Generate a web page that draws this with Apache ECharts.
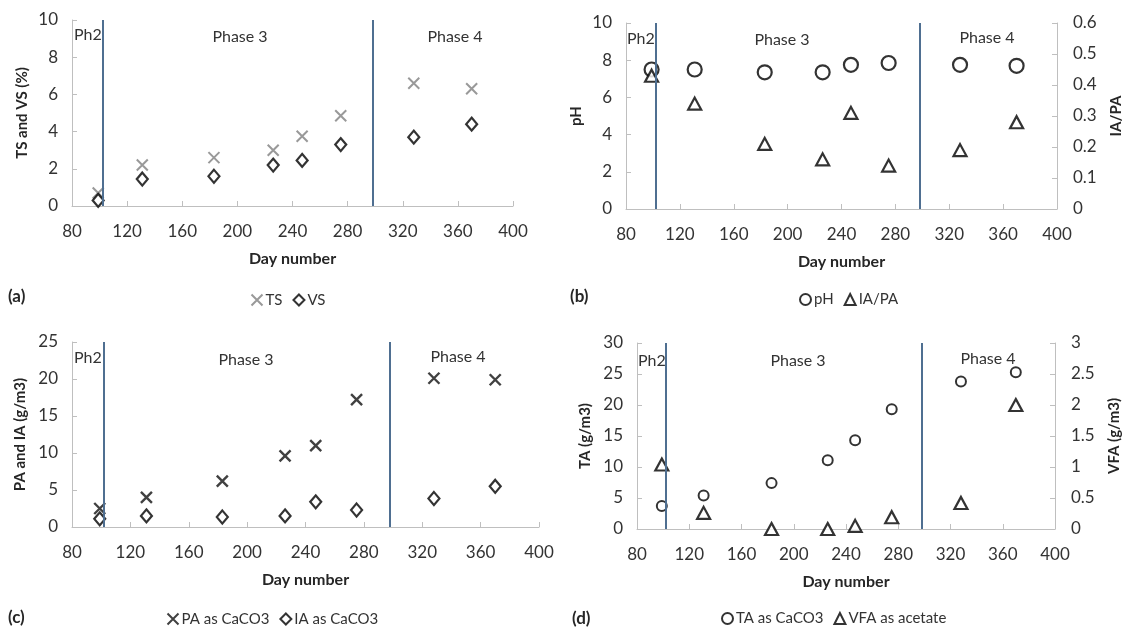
<!DOCTYPE html>
<html>
<head>
<meta charset="utf-8">
<script src="https://cdn.jsdelivr.net/npm/echarts@6/dist/echarts.min.js"></script>
<style>
  html, body { margin: 0; padding: 0; background: #fff; }
  #chart { width: 1126px; height: 630px; }
</style>
</head>
<body>
<div id="chart"></div>
<script>
// sampling days shared by all four panels
const days = [99, 131, 183, 226, 247, 275, 328, 370]
const phaseBoundaries = [102, 298]

// (a) solids
const tsValues = [0.7, 2.2, 2.6, 3.0, 3.75, 4.85, 6.6, 6.3]
const vsValues = [0.3, 1.45, 1.6, 2.2, 2.45, 3.3, 3.7, 4.4]

// (b) pH and IA/PA ratio
const phValues = [7.5, 7.5, 7.35, 7.35, 7.75, 7.85, 7.75, 7.7]
const iaPaValues = [0.43, 0.34, 0.21, 0.16, 0.31, 0.14, 0.19, 0.28]

// (c) partial / intermediate alkalinity
const paValues = [2.5, 4.0, 6.2, 9.6, 11.0, 17.2, 20.1, 19.9]
const iaValues = [1.1, 1.5, 1.35, 1.5, 3.4, 2.3, 3.85, 5.5]

// (d) total alkalinity and VFA
const taValues = [3.7, 5.4, 7.4, 11.1, 14.3, 19.3, 23.8, 25.3]
const vfaValues = [1.04, 0.26, 0.0, 0.0, 0.05, 0.19, 0.42, 2.0]

const FONT = 'Lato, "Open Sans", sans-serif'
const AXIS_GRAY = '#bfbfbf'
const TEXT = '#333'
const PHASE_COLOR = '#4f6f91'
const CROSS = 'path://M0,0L10,10M10,0L0,10'

const pts = vals => days.map((d, i) => [d, vals[i]])

const xAxisBase = (gridIndex) => ({
  gridIndex,
  type: 'value',
  min: 80,
  max: 400,
  interval: 40,
  name: 'Day number',
  nameLocation: 'middle',
  nameGap: 45,
  nameTextStyle: { fontFamily: FONT, fontSize: 16, fontWeight: 'bold', color: '#262626' },
  axisLine: { lineStyle: { color: AXIS_GRAY } },
  axisTick: { inside: true, length: 5, lineStyle: { color: AXIS_GRAY } },
  axisLabel: { fontFamily: FONT, fontSize: 17, color: TEXT, margin: 17 },
  splitLine: { show: false }
})

const yAxisBase = (gridIndex, name, max, interval, pos, gap) => ({
  gridIndex,
  type: 'value',
  position: pos,
  min: 0,
  max,
  interval,
  name,
  nameLocation: 'middle',
  nameGap: gap,
  nameRotate: 90,
  nameTextStyle: { fontFamily: FONT, fontSize: 15, fontWeight: 'bold', color: '#262626' },
  axisLine: { show: true, lineStyle: { color: AXIS_GRAY } },
  axisTick: { show: true, inside: true, length: 5, lineStyle: { color: AXIS_GRAY } },
  axisLabel: { fontFamily: FONT, fontSize: 17, color: TEXT, margin: pos === 'right' ? 16 : 14 },
  splitLine: { show: false }
})

const phaseMarkLine = {
  silent: true,
  symbol: 'none',
  label: { show: false },
  lineStyle: { color: PHASE_COLOR, width: 2, type: 'solid' },
  data: phaseBoundaries.map(d => ({ xAxis: d }))
}

const openStyle = (w) => ({ color: '#fff', borderColor: '#000', borderWidth: w })
const crossStyle = (c, w) => ({ color: 'none', borderColor: c, borderWidth: w })

const legendBase = (data, left, top) => ({
  data,
  left,
  top,
  itemGap: 10,
  itemWidth: 11,
  itemHeight: 11,
  textStyle: { fontFamily: FONT, fontSize: 15, color: TEXT, padding: [0, 0, 0, -2] }
})

const phaseText = (text, x, y, align) => ({
  type: 'text',
  x, y,
  style: { text, fontFamily: FONT, fontSize: 16, fill: TEXT, align: align || 'center', verticalAlign: 'middle' }
})
const panelText = (text, x, y) => ({
  type: 'text',
  x, y,
  style: { text, fontFamily: FONT, fontSize: 17, fontWeight: 'bold', fill: '#262626', verticalAlign: 'middle' }
})

const chart = echarts.init(document.getElementById('chart'), null, { renderer: 'canvas' })

const option = {
  backgroundColor: '#fff',
  animation: false,
  grid: [
    { left: 72, top: 20, width: 441, height: 186 },
    { left: 626, top: 23, width: 431, height: 186 },
    { left: 72, top: 342, width: 467, height: 185 },
    { left: 637, top: 343, width: 418, height: 186 }
  ],
  xAxis: [xAxisBase(0), xAxisBase(1), xAxisBase(2), xAxisBase(3)],
  yAxis: [
    yAxisBase(0, 'TS and VS (%)', 10, 2, 'left', 42),
    yAxisBase(1, 'pH', 10, 2, 'left', 42),
    yAxisBase(1, 'IA/PA', 0.6, 0.1, 'right', 52),
    yAxisBase(2, 'PA and IA (g/m3)', 25, 5, 'left', 44),
    yAxisBase(3, 'TA (g/m3)', 30, 5, 'left', 44),
    yAxisBase(3, 'VFA (g/m3)', 3, 0.5, 'right', 52)
  ],
  legend: [
    legendBase(['TS', 'VS'], 244, 287),
    legendBase(['pH', 'IA/PA'], 794, 287),
    legendBase(['PA as CaCO3', 'IA as CaCO3'], 160, 606),
    legendBase(['TA as CaCO3', 'VFA as acetate'], 716, 606)
  ],
  graphic: [
    phaseText('Ph2', 74, 35, 'left'),
    phaseText('Phase 3', 240, 37),
    phaseText('Phase 4', 455, 37),
    phaseText('Ph2', 627, 39, 'left'),
    phaseText('Phase 3', 782, 40),
    phaseText('Phase 4', 987, 38),
    phaseText('Ph2', 74, 358, 'left'),
    phaseText('Phase 3', 246, 360),
    phaseText('Phase 4', 458, 357),
    phaseText('Ph2', 638, 361, 'left'),
    phaseText('Phase 3', 798, 361),
    phaseText('Phase 4', 988, 359),
    panelText('(a)', 8, 297),
    panelText('(b)', 570, 297),
    panelText('(c)', 8, 618),
    panelText('(d)', 572, 619)
  ],
  series: [
    {
      name: 'TS', type: 'scatter', xAxisIndex: 0, yAxisIndex: 0,
      symbol: CROSS, symbolSize: 11, data: pts(tsValues),
      itemStyle: crossStyle('#7f7f7f', 2),
      markLine: phaseMarkLine
    },
    {
      name: 'VS', type: 'scatter', xAxisIndex: 0, yAxisIndex: 0,
      symbol: 'diamond', symbolSize: [11, 13], data: pts(vsValues),
      itemStyle: openStyle(2.2)
    },
    {
      name: 'pH', type: 'scatter', xAxisIndex: 1, yAxisIndex: 1,
      symbol: 'circle', symbolSize: 14, data: pts(phValues),
      itemStyle: openStyle(2.2),
      markLine: phaseMarkLine
    },
    {
      name: 'IA/PA', type: 'scatter', xAxisIndex: 1, yAxisIndex: 2,
      symbol: 'triangle', symbolSize: [13, 12], data: pts(iaPaValues),
      itemStyle: openStyle(2.2)
    },
    {
      name: 'PA as CaCO3', type: 'scatter', xAxisIndex: 2, yAxisIndex: 3,
      symbol: CROSS, symbolSize: 11, data: pts(paValues),
      itemStyle: crossStyle('#111', 2.4),
      markLine: phaseMarkLine
    },
    {
      name: 'IA as CaCO3', type: 'scatter', xAxisIndex: 2, yAxisIndex: 3,
      symbol: 'diamond', symbolSize: [11, 13], data: pts(iaValues),
      itemStyle: openStyle(2.2)
    },
    {
      name: 'TA as CaCO3', type: 'scatter', xAxisIndex: 3, yAxisIndex: 4,
      symbol: 'circle', symbolSize: 10, data: pts(taValues),
      itemStyle: openStyle(2),
      markLine: phaseMarkLine
    },
    {
      name: 'VFA as acetate', type: 'scatter', xAxisIndex: 3, yAxisIndex: 5,
      symbol: 'triangle', symbolSize: [13, 12], data: pts(vfaValues),
      itemStyle: openStyle(2.2)
    }
  ]
}

chart.setOption(option)
</script>
</body>
</html>
